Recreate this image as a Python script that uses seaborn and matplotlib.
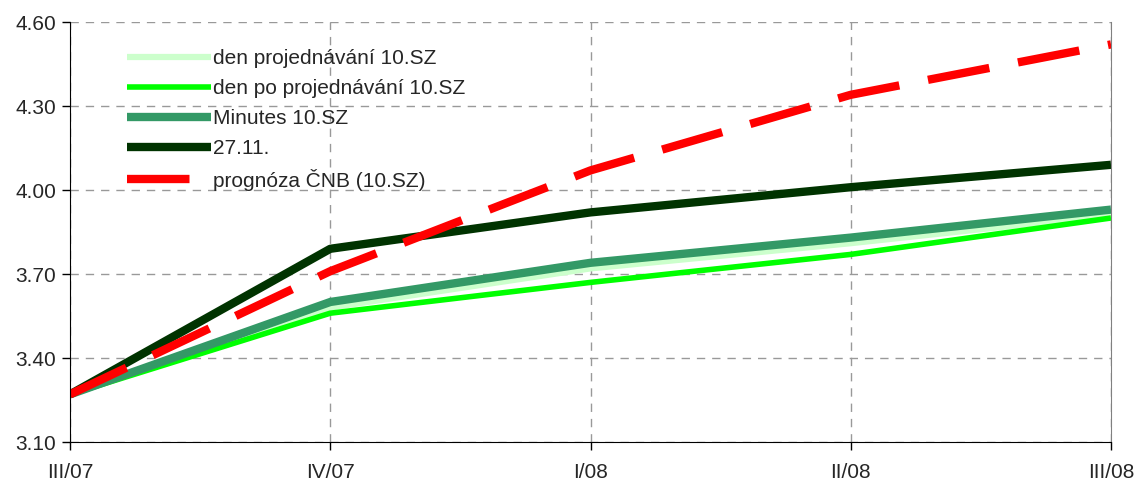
import matplotlib
matplotlib.use("Agg")
import matplotlib.pyplot as plt
import seaborn as sns
import pandas as pd

quarters = ["III/07", "IV/07", "I/08", "II/08", "III/08"]
den_projednavani = [3.27, 3.58, 3.72, 3.81, 3.91]
den_po = [3.27, 3.56, 3.67, 3.77, 3.90]
minutes = [3.27, 3.60, 3.74, 3.83, 3.93]
d2711 = [3.27, 3.79, 3.92, 4.01, 4.09]
prognoza = [3.27, 3.71, 4.07, 4.34, 4.52]
yticks = [3.10, 3.40, 3.70, 4.00, 4.30, 4.60]

sns.set_style("white")
plt.rcParams['font.family'] = ['Liberation Sans', 'DejaVu Sans']

series = [
    ("den projednávání 10.SZ", den_projednavani, "#ccffcc", 4.5, "-"),
    ("den po projednávání 10.SZ", den_po, "#00ff00", 4.0, "-"),
    ("Minutes 10.SZ", minutes, "#339966", 6.0, "-"),
    ("27.11.", d2711, "#003300", 6.0, "-"),
    ("prognóza ČNB (10.SZ)", prognoza, "#ff0000", 6.0, (0, (7.5, 3.5))),
]

fig = plt.figure(figsize=(11.39, 4.83), dpi=100)
ax = fig.add_axes([70/1139, 1-442/483, (1111-70)/1139, (442-22)/483])

x = list(range(len(quarters)))
for name, vals, col, lw, ls in series:
    df = pd.DataFrame({"x": x, "y": vals})
    sns.lineplot(data=df, x="x", y="y", ax=ax, color=col, linewidth=lw,
                 linestyle=ls, label=name, solid_capstyle="butt", dash_capstyle="butt")

ax.set_xlim(0, 4)
ax.set_ylim(3.10, 4.60)
ax.set_xticks(x)
ax.set_xticklabels(quarters)
ax.set_yticks(yticks)
ax.set_yticklabels([f"{v:.2f}" for v in yticks])
ax.set_xlabel("")
ax.set_ylabel("")
ax.grid(True, color="#999999", linestyle=(0, (6, 5)), linewidth=1)
ax.tick_params(axis="both", labelsize=15, length=6, width=1, color="black",
               direction="out", left=True, bottom=True)
ax.tick_params(axis="x", pad=9)
ax.tick_params(axis="y", pad=4)
ax.spines["top"].set_visible(False)
ax.spines["right"].set_color("#808080")
ax.spines["left"].set_color("black")
ax.spines["bottom"].set_color("black")

leg = ax.legend(loc="upper left", bbox_to_anchor=(0.055, 0.935), frameon=False,
                fontsize=15, handlelength=4.0, handletextpad=0.1,
                labelspacing=0.52, borderaxespad=0, borderpad=0)

fig.savefig("out.png", dpi=100)
